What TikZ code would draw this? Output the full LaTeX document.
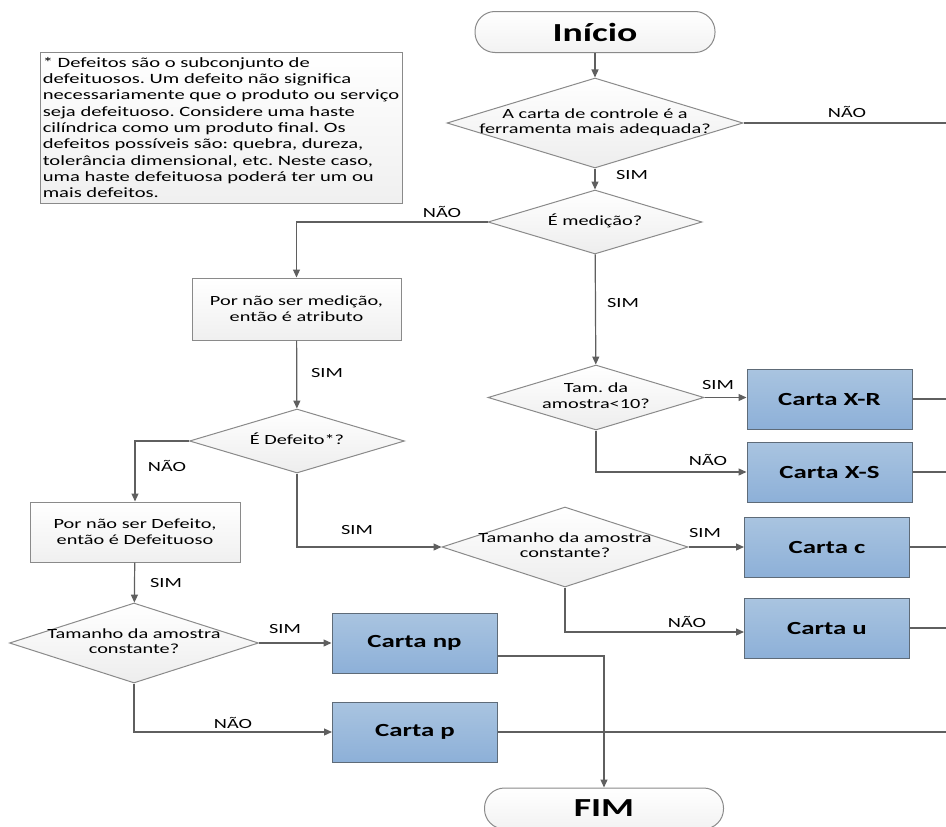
\documentclass[tikz,border=0pt]{standalone}
\usepackage{fontspec}
\setmainfont{Carlito}[FakeStretch=1.45]
\usetikzlibrary{shapes.geometric,arrows.meta}
\definecolor{linha}{HTML}{5F5F5F}
\definecolor{borda}{HTML}{8A8A8A}
\definecolor{cartatop}{HTML}{A9C4E0}
\definecolor{cartabot}{HTML}{8DB0D8}
\definecolor{cartaedge}{HTML}{5E6B78}
\newcommand{\dtxt}[1]{\makebox[0pt]{\begin{tabular}{@{}c@{}}#1\end{tabular}}}
\frenchspacing

\begin{document}
\begin{tikzpicture}[x=1pt,y=-1pt,
  dec/.style={diamond,draw=borda,line width=1pt,top color=white,bottom color=gray!14,inner sep=0pt,font=\fontsize{14}{15.5}\selectfont},
  proc/.style={rectangle,draw=borda,line width=1pt,top color=white,bottom color=gray!12,align=center,font=\fontsize{14}{16}\selectfont},
  carta/.style={rectangle,draw=cartaedge,line width=1pt,top color=cartatop,bottom color=cartabot,minimum width=165,minimum height=60,font=\fontsize{18.5}{22}\selectfont\bfseries},
  term/.style={rectangle,rounded corners=20pt,draw=borda,line width=1pt,top color=white,bottom color=gray!10,minimum width=240,minimum height=41,font=\fontsize{26}{30}\selectfont\bfseries},
  lbl/.style={font=\fontsize{14}{16}\selectfont},
  seta/.style={draw=linha,line width=1.2pt,-{Triangle[length=8pt,width=7pt]}},
  liga/.style={draw=linha,line width=1.2pt}]
\useasboundingbox (0,0) rectangle (946,827);
\coordinate (margem) at (946,0);

\node[proc,align=left,minimum width=362,minimum height=151,inner sep=2pt,font=\fontsize{14.2}{16.3}\selectfont] (nota) at (221,127.5)
  {* Defeitos são o subconjunto de\\
   defeituosos. Um defeito não significa\\
   necessariamente que o produto ou serviço\\
   seja defeituoso. Considere uma haste\\
   cilíndrica como um produto final. Os\\
   defeitos possíveis são: quebra, dureza,\\
   tolerância dimensional, etc. Neste caso,\\
   uma haste defeituosa poderá ter um ou\\
   mais defeitos.};

\node[term] (inicio) at (595,32) {Início};
\node[dec,minimum width=296,minimum height=90] (ferr) at (595,123) {\dtxt{A carta de controle é a\\ferramenta mais adequada?}};
\node[dec,minimum width=214,minimum height=64] (medicao) at (595,222) {\dtxt{É medição?}};
\node[proc,minimum width=209,minimum height=62] (atrib) at (296.5,309) {Por não ser medição,\\então é atributo};
\node[dec,minimum width=215,minimum height=64] (defeito) at (297,441) {\dtxt{É Defeito*?}};
\node[dec,minimum width=216,minimum height=65] (tam) at (596,397.5) {\dtxt{Tam. da\\amostra<10?}};
\node[carta] (xr) at (829.5,399) {Carta X-R};
\node[carta] (xs) at (829.5,472) {Carta X-S};
\node[proc,minimum width=210,minimum height=60] (defeituoso) at (135,532) {Por não ser Defeito,\\então é Defeituoso};
\node[dec,minimum width=246,minimum height=80] (constC) at (565,547) {\dtxt{Tamanho da amostra\\constante?}};
\node[carta] (cc) at (827,547) {Carta c};
\node[carta] (cu) at (827,628) {Carta u};
\node[dec,minimum width=249,minimum height=80] (constP) at (134,643) {\dtxt{Tamanho da amostra\\constante?}};
\node[carta] (cnp) at (414.5,643) {Carta np};
\node[carta] (cp) at (415,732) {Carta p};
\node[term,minimum width=239] (fim) at (604,808.5) {FIM};

\draw[seta] (inicio) -- (ferr);
\draw[liga] (ferr.east) -- (ferr.east -| margem);
\draw[seta] (ferr) -- (medicao);
\draw[seta] (medicao.west) -| (atrib.north);
\draw[seta] (medicao) -- (tam);
\draw[seta] (atrib) -- (defeito);
\draw[seta] (tam.east) -- (tam.east -| xr.west);
\draw[seta] (tam.south) |- (xs.west);
\draw[liga] (xr.east) -- (xr.east -| margem);
\draw[liga] (xs.east) -- (xs.east -| margem);
\draw[seta] (defeito.west) -| (defeituoso.north);
\draw[seta] (defeito.south) |- (constC.west);
\draw[seta] (constC) -- (cc);
\draw[seta] (constC.south) |- ([yshift=-4pt]cu.west);
\draw[liga] (cc.east) -- (cc.east -| margem);
\draw[liga] (cu.east) -- (cu.east -| margem);
\draw[seta] (defeituoso) -- (constP);
\draw[seta] (constP) -- (cnp);
\draw[seta] (constP.south) |- (cp.west);
\draw[seta] ([yshift=-13pt]cnp.east) -| (fim.north);
\draw[liga] (cp.east) -- (cp.east -| margem);

\node[lbl] (l1) at (847,112) {NÃO};
\node[lbl] (l2) at (632,175) {SIM};
\node[lbl] (l3) at (442,212) {NÃO};
\node[lbl] (l4) at (623,303) {SIM};
\node[lbl] (l5) at (327,373) {SIM};
\node[lbl] (l6) at (718,385) {SIM};
\node[lbl] (l7) at (708,460) {NÃO};
\node[lbl] (l8) at (167,466) {NÃO};
\node[lbl] (l9) at (357,530) {SIM};
\node[lbl] (l10) at (705,533) {SIM};
\node[lbl] (l11) at (687,622) {NÃO};
\node[lbl] (l12) at (166,583) {SIM};
\node[lbl] (l13) at (285,629) {SIM};
\node[lbl] (l14) at (233,723) {NÃO};
\end{tikzpicture}
\end{document}
